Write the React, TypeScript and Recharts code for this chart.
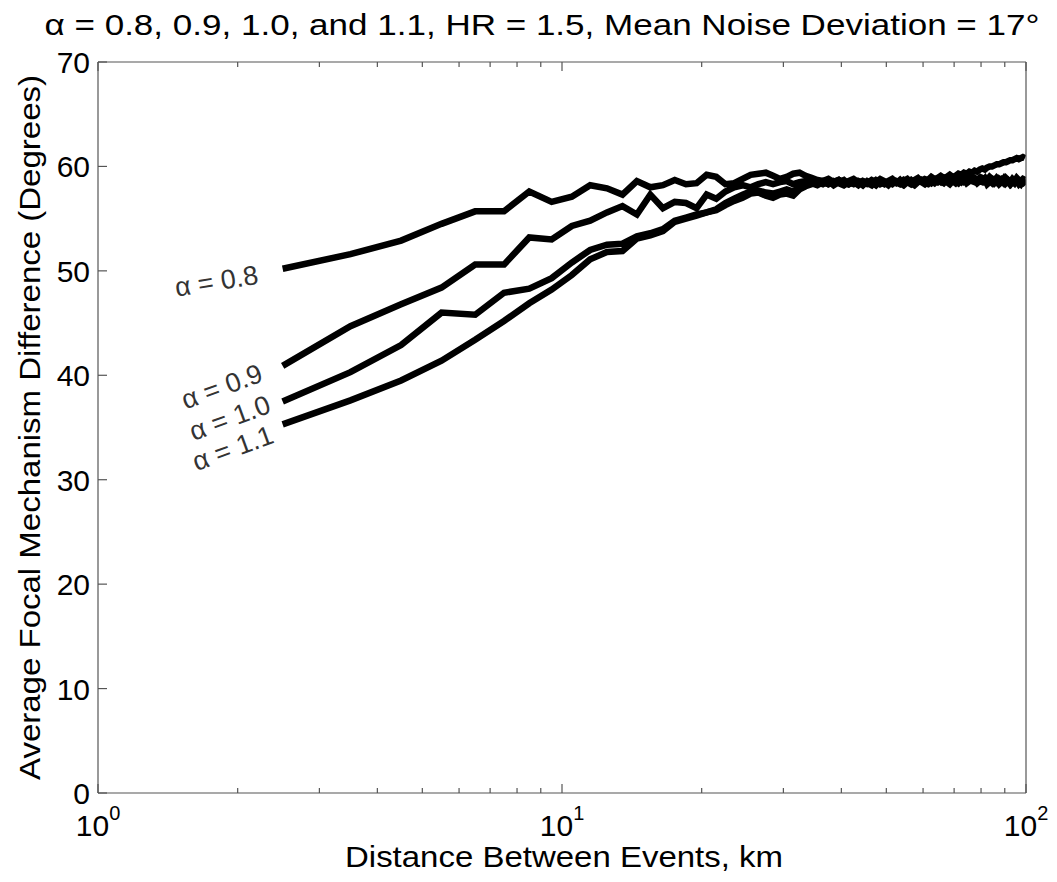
import React from 'react';
import { LineChart, Line, XAxis, YAxis, ReferenceDot } from 'recharts';

// bin centres, km
const distances = [
  2.5, 3.5, 4.5, 5.5, 6.5, 7.5, 8.5, 9.5, 10.5, 11.5,
  12.5, 13.5, 14.5, 15.5, 16.5, 17.5, 18.5, 19.5, 20.5, 21.5,
  22.5, 23.5, 24.5, 25.5, 26.5, 27.5, 28.5, 29.5, 30.5, 31.5,
  32.5, 33.5, 34.5, 35.5, 36.5, 37.5, 38.5, 39.5, 40.5, 41.5,
  42.5, 43.5, 44.5, 45.5, 46.5, 47.5, 48.5, 49.5, 50.5, 51.5,
  52.5, 53.5, 54.5, 55.5, 56.5, 57.5, 58.5, 59.5, 60.5, 61.5,
  62.5, 63.5, 64.5, 65.5, 66.5, 67.5, 68.5, 69.5, 70.5, 71.5,
  72.5, 73.5, 74.5, 75.5, 76.5, 77.5, 78.5, 79.5, 80.5, 81.5,
  82.5, 83.5, 84.5, 85.5, 86.5, 87.5, 88.5, 89.5, 90.5, 91.5,
  92.5, 93.5, 94.5, 95.5, 96.5, 97.5, 98.5, 99.5,
];

const alpha08 = [
  50.2, 51.6, 52.9, 54.5, 55.7, 55.7, 57.6, 56.6, 57.1, 58.2, 57.9, 57.3, 58.6, 58.0, 58.2, 58.7, 58.3,
  58.4, 59.2, 59.0, 58.3, 58.4, 58.8, 59.2, 59.3, 59.4, 59.1, 58.8, 59.0, 59.3, 59.4, 59.1, 58.9,
  58.7, 58.6, 58.8, 58.5, 58.7, 58.4, 58.6, 58.8, 58.5, 58.6,
  58.4, 58.7, 58.5, 58.8, 58.6, 58.4, 58.7, 58.5, 58.3, 58.6,
  58.8, 58.5, 58.7, 58.9, 58.6, 58.8, 58.7, 59.0, 58.8, 58.9,
  59.1, 58.9, 59.0, 59.2, 59.0, 59.1, 59.3, 59.2, 59.4, 59.3,
  59.5, 59.4, 59.6, 59.5, 59.7, 59.8, 59.7, 59.9, 60.0, 60.0,
  60.1, 60.2, 60.2, 60.3, 60.4, 60.4, 60.5, 60.6, 60.6, 60.7,
  60.8, 60.7, 60.8, 60.9, 60.8,
];

const alpha09 = [
  40.9, 44.7, 46.8, 48.4, 50.6, 50.6, 53.2, 53.0, 54.3, 54.8, 55.6, 56.2, 55.4, 57.3, 56.0, 56.6, 56.5,
  56.0, 57.3, 56.9, 57.6, 58.0, 58.2, 58.0, 58.3, 58.5, 58.3, 58.5, 58.6, 58.3, 58.5, 58.6, 58.4,
  58.4, 58.6, 58.3, 58.5, 58.7, 58.4, 58.3, 58.6, 58.5, 58.2,
  58.6, 58.4, 58.7, 58.5, 58.3, 58.6, 58.8, 58.5, 58.4, 58.7,
  58.5, 58.3, 58.6, 58.8, 58.6, 58.4, 58.7, 58.9, 58.6, 58.5,
  58.8, 58.7, 58.9, 58.6, 58.8, 59.0, 58.7, 58.9, 58.6, 58.8,
  59.0, 58.8, 58.9, 58.7, 58.6, 58.9, 58.8, 58.7, 59.0, 58.8,
  58.6, 58.9, 58.7, 58.8, 58.6, 58.9, 58.7, 58.5, 58.8, 58.6,
  58.9, 58.7, 58.6, 58.8, 58.7,
];

const alpha10 = [
  37.5, 40.3, 42.9, 46.0, 45.8, 47.9, 48.3, 49.3, 50.8, 52.0, 52.5, 52.6, 53.3, 53.6, 54.0, 54.8, 55.1,
  55.4, 55.6, 55.9, 56.5, 56.9, 57.3, 57.6, 57.7, 57.5, 57.4, 57.6, 57.8, 57.6, 58.0, 58.2, 58.4,
  58.2, 58.5, 58.3, 58.6, 58.4, 58.2, 58.5, 58.3, 58.6, 58.4,
  58.3, 58.5, 58.2, 58.6, 58.4, 58.5, 58.3, 58.6, 58.4, 58.2,
  58.5, 58.7, 58.4, 58.6, 58.5, 58.3, 58.6, 58.4, 58.7, 58.5,
  58.6, 58.4, 58.7, 58.5, 58.8, 58.6, 58.4, 58.7, 58.5, 58.6,
  58.8, 58.6, 58.5, 58.7, 58.9, 58.6, 58.5, 58.8, 58.6, 58.4,
  58.7, 58.5, 58.8, 58.6, 58.4, 58.7, 58.5, 58.3, 58.6, 58.4,
  58.7, 58.5, 58.3, 58.6, 58.4,
];

const alpha11 = [
  35.3, 37.6, 39.5, 41.4, 43.4, 45.2, 46.9, 48.2, 49.6, 51.1, 51.8, 51.9, 53.1, 53.4, 53.8, 54.7, 55.0,
  55.3, 55.6, 55.8, 56.3, 56.7, 57.0, 57.4, 57.5, 57.2, 57.0, 57.3, 57.4, 57.2, 57.8, 58.1, 58.3,
  58.5, 58.3, 58.6, 58.2, 58.5, 58.7, 58.3, 58.5, 58.2, 58.6,
  58.4, 58.2, 58.6, 58.3, 58.5, 58.2, 58.6, 58.4, 58.7, 58.3,
  58.6, 58.4, 58.2, 58.5, 58.7, 58.4, 58.3, 58.6, 58.4, 58.7,
  58.5, 58.8, 58.5, 58.3, 58.6, 58.4, 58.7, 58.5, 58.8, 58.4,
  58.6, 58.9, 58.7, 58.4, 58.6, 58.5, 58.8, 58.3, 58.5, 58.7,
  58.4, 58.6, 58.3, 58.5, 58.8, 58.4, 58.6, 58.3, 58.5, 58.4,
  58.6, 58.3, 58.5, 58.4, 58.6,
];

const yTicks = [0, 10, 20, 30, 40, 50, 60, 70];
const xTicks = [1, 2, 3, 4, 5, 6, 7, 8, 9, 10, 20, 30, 40, 50, 60, 70, 80, 90, 100];
const xMajorTicks = [1, 10, 100];
const xMajorExponents = ['0', '1', '2'];

const curveLabels = [
  { text: 'α = 0.8', x: 1.8, y: 49.0, angle: -9 },
  { text: 'α = 0.9', x: 1.85, y: 38.9, angle: -20 },
  { text: 'α = 1.0', x: 1.925, y: 35.9, angle: -20 },
  { text: 'α = 1.1', x: 1.954, y: 33.0, angle: -20 },
];

const titleText = 'α = 0.8, 0.9, 1.0, and 1.1, HR = 1.5, Mean Noise Deviation = 17°';
const xLabel = 'Distance Between Events, km';
const yLabel = 'Average Focal Mechanism Difference (Degrees)';

const data = distances.map((d, i) => ({
  d,
  a08: alpha08[i],
  a09: alpha09[i],
  a10: alpha10[i],
  a11: alpha11[i],
}));

const font = '"Liberation Sans", Arial, Helvetica, sans-serif';
const axisColor = '#555';

const BottomTick = (props: any) => {
  const { x, y, payload } = props;
  const idx = xMajorTicks.indexOf(payload.value);
  const major = idx >= 0;
  return (
    <g>
      <line x1={x} y1={y} x2={x} y2={y - (major ? 9 : 5)} stroke={axisColor} strokeWidth={1.2} />
      {major && (
        <text x={x} y={y + 43} textAnchor="middle" fontSize={30} fill="#000" fontFamily={font}>
          10<tspan dy={-16} fontSize={20}>{xMajorExponents[idx]}</tspan>
        </text>
      )}
    </g>
  );
};

const TopTick = (props: any) => {
  const { x, y, payload } = props;
  const major = xMajorTicks.includes(payload.value);
  return <line x1={x} y1={y} x2={x} y2={y + (major ? 9 : 5)} stroke={axisColor} strokeWidth={1.2} />;
};

const LeftTick = (props: any) => {
  const { x, y, payload } = props;
  return (
    <g>
      <line x1={x} y1={y} x2={x + 9} y2={y} stroke={axisColor} strokeWidth={1.2} />
      <text x={x - 8} y={y + 11} textAnchor="end" fontSize={30} fill="#000" fontFamily={font}>
        {payload.value}
      </text>
    </g>
  );
};

const RightTick = (props: any) => {
  const { x, y } = props;
  return <line x1={x} y1={y} x2={x - 9} y2={y} stroke={axisColor} strokeWidth={1.2} />;
};

const CurveLabel = ({ viewBox, text, angle }: any) => {
  const cx = viewBox.x + viewBox.width / 2;
  const cy = viewBox.y + viewBox.height / 2;
  return (
    <text
      x={cx}
      y={cy}
      textAnchor="middle"
      dominantBaseline="central"
      fontSize={27}
      fill="#333"
      fontFamily={font}
      transform={`rotate(${angle} ${cx} ${cy})`}
    >
      {text}
    </text>
  );
};

export default function App() {
  return (
    <div style={{ position: 'absolute', left: 0, top: 0, width: 1057, height: 882, background: '#fff' }}>
      <LineChart width={1057} height={882} data={data} margin={{ top: 61, right: 30, bottom: 88, left: 97 }}>
        <XAxis
          xAxisId="b"
          dataKey="d"
          type="number"
          scale="log"
          domain={[1, 100]}
          ticks={xTicks}
          interval={0}
          allowDataOverflow
          height={1}
          tickSize={0}
          tickMargin={0}
          tickLine={false}
          tick={<BottomTick />}
          axisLine={{ stroke: axisColor, strokeWidth: 1.2 }}
          label={{
            content: ({ viewBox }: any) => (
              <text
                x={viewBox.x + viewBox.width / 2 + 2}
                y={viewBox.y + 74}
                textAnchor="middle"
                fontSize={30}
                fill="#000"
                fontFamily={font}
                textLength={438}
                lengthAdjust="spacingAndGlyphs"
              >
                {xLabel}
              </text>
            ),
          }}
        />
        <XAxis
          xAxisId="t"
          orientation="top"
          dataKey="d"
          type="number"
          scale="log"
          domain={[1, 100]}
          ticks={xTicks}
          interval={0}
          allowDataOverflow
          height={1}
          tickSize={0}
          tickMargin={0}
          tickLine={false}
          tick={<TopTick />}
          axisLine={{ stroke: axisColor, strokeWidth: 1.2 }}
          label={{
            content: ({ viewBox }: any) => (
              <text
                x={viewBox.x + viewBox.width / 2 - 20}
                y={viewBox.y + viewBox.height - 27}
                textAnchor="middle"
                fontSize={30}
                fill="#000"
                fontFamily={font}
                textLength={995}
                lengthAdjust="spacingAndGlyphs"
              >
                {titleText}
              </text>
            ),
          }}
        />
        <YAxis
          yAxisId="l"
          type="number"
          domain={[0, 70]}
          ticks={yTicks}
          interval={0}
          width={1}
          tickSize={0}
          tickMargin={0}
          tickLine={false}
          tick={<LeftTick />}
          axisLine={{ stroke: axisColor, strokeWidth: 1.2 }}
          label={{
            content: ({ viewBox }: any) => {
              const cx = 40;
              const cy = viewBox.y + viewBox.height / 2;
              return (
                <text
                  x={cx}
                  y={cy}
                  textAnchor="middle"
                  fontSize={30}
                  fill="#000"
                  fontFamily={font}
                  textLength={705}
                  lengthAdjust="spacingAndGlyphs"
                  transform={`rotate(-90 ${cx} ${cy})`}
                >
                  {yLabel}
                </text>
              );
            },
          }}
        />
        <YAxis
          yAxisId="r"
          orientation="right"
          type="number"
          domain={[0, 70]}
          ticks={yTicks}
          interval={0}
          width={1}
          tickSize={0}
          tickMargin={0}
          tickLine={false}
          tick={<RightTick />}
          axisLine={{ stroke: axisColor, strokeWidth: 1.2 }}
        />
        <Line xAxisId="b" yAxisId="l" dataKey="a11" stroke="#000" strokeWidth={6.5} dot={false} isAnimationActive={false} />
        <Line xAxisId="b" yAxisId="l" dataKey="a10" stroke="#000" strokeWidth={6.5} dot={false} isAnimationActive={false} />
        <Line xAxisId="b" yAxisId="l" dataKey="a09" stroke="#000" strokeWidth={6.5} dot={false} isAnimationActive={false} />
        <Line xAxisId="b" yAxisId="l" dataKey="a08" stroke="#000" strokeWidth={6.5} dot={false} isAnimationActive={false} />
        {curveLabels.map((c) => (
          <ReferenceDot
            key={c.text}
            xAxisId="b"
            yAxisId="l"
            x={c.x}
            y={c.y}
            r={1}
            fill="none"
            stroke="none"
            label={{ content: (p: any) => <CurveLabel {...p} text={c.text} angle={c.angle} /> }}
          />
        ))}
      </LineChart>
    </div>
  );
}
